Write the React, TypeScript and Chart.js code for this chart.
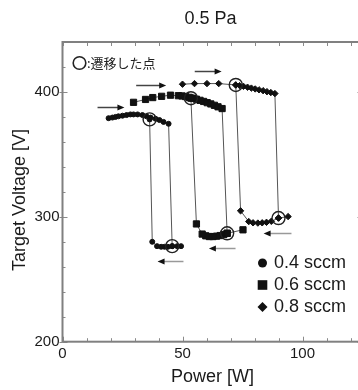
import React, { useEffect, useRef } from 'react';
import { Chart, registerables } from 'chart.js';

Chart.register(...registerables);

// ---------- text ----------
const TITLE = '0.5 Pa';
const X_TITLE = 'Power [W]';
const Y_TITLE = 'Target Voltage [V]';
const NOTE = ':遷移した点';
const SERIES_LABELS = ['0.4 sccm', '0.6 sccm', '0.8 sccm'];

// ---------- axes ----------
const X_MIN = 0;
const X_MAX = 125;
const Y_MIN = 200;
const Y_MAX = 440;
const X_TICKS = [0, 50, 100];
const Y_TICKS = [200, 300, 400];

// ---------- 0.4 sccm ----------
const up04W = [19.2, 20.8, 22.1, 23.3, 25.0, 26.7, 28.3, 29.6, 31.3, 33.3, 35.0, 36.7, 38.8, 40.4, 42.1, 44.2];
const up04V = [379, 379.5, 380, 380.5, 381, 381.5, 382, 382, 382, 381.5, 380.5, 379.5, 378.5, 377.5, 376, 374.5];
const lo04W = [37.4, 39.4, 41.1, 42.5, 43.9, 45.7, 47.8, 49.4];
const lo04V = [280, 276.5, 276, 276, 276, 276.5, 276.5, 276.5];
const lo04Jump = 5;
const back04 = [36.3, 378];

// ---------- 0.6 sccm ----------
const up06W = [29.6, 34.6, 37.6, 41.3, 45.0, 48.3, 49.8, 51.3, 52.8, 54.3, 55.8, 57.3, 58.8, 60.3, 61.8, 63.3, 64.8, 66.5];
const up06V = [391.7, 394, 395.5, 396.5, 397.4, 397, 396.8, 396.3, 395.7, 395, 394.2, 393.3, 392.4, 391.4, 390.4, 389.3, 388.1, 386.7];
const lo06W = [55.8, 58.2, 59.7, 61.2, 62.7, 64.2, 65.7, 67.2, 68.6, 75.2];
const lo06V = [294.3, 286.2, 284.8, 284.2, 284.2, 284.5, 285, 285.8, 286.8, 289.6];
const lo06Jump = 8;
const back06 = [53.5, 395];

// ---------- 0.8 sccm ----------
const up08W = [50.0, 55.0, 60.2, 65.1, 72.2, 73.8, 75.4, 77.1, 78.7, 80.3, 81.9, 83.6, 85.2, 86.8, 88.5];
const up08V = [406.2, 406.7, 406.7, 406.7, 405.6, 405.1, 404.5, 403.8, 403.1, 402.4, 401.7, 401, 400.2, 399.5, 398.7];
const lo08W = [74.2, 77.6, 79.4, 81.4, 83.2, 85.0, 87.0, 90.0, 94.0];
const lo08V = [304.8, 296.2, 295.2, 295, 295.2, 295.6, 296.4, 299, 300.2];
const lo08Jump = 7;
const back08 = [72.2, 405.6];

// ---------- transition points (open circles) ----------
const transW = [36.3, 45.7, 53.5, 68.6, 72.2, 90.0];
const transV = [378, 276.5, 395, 286.8, 405.6, 299];

// ---------- sweep arrows: [fromW, toW, V] ----------
const arrowFromW = [14.6, 30.7, 55.1, 50.4, 72.1, 95.4];
const arrowToW = [25.8, 43.2, 66.3, 39.6, 61.0, 83.8];
const arrowV = [387.8, 405.9, 416.6, 264.6, 275.2, 286.7];

const FONT = '"Liberation Sans", Arial, Helvetica, sans-serif';
const CJK = '"Noto Sans CJK JP", "Noto Sans CJK SC", sans-serif';

type P = { x: number; y: number | null };

function buildPath(uW: number[], uV: number[], lW: number[], lV: number[], jump: number, back: number[]): P[] {
  const pts: P[] = [];
  for (let i = 0; i < uW.length; i++) pts.push({ x: uW[i], y: uV[i] });
  for (let i = jump; i >= 0; i--) pts.push({ x: lW[i], y: lV[i] });
  pts.push({ x: back[0], y: back[1] });
  pts.push({ x: lW[jump], y: null });
  for (let i = jump; i < lW.length; i++) pts.push({ x: lW[i], y: lV[i] });
  return pts;
}

const decor = {
  id: 'decor',
  afterDraw(chart: any) {
    const { ctx, chartArea: a, scales } = chart;
    const xs = scales.x;
    const ys = scales.y;
    ctx.save();

    const seg = (x1: number, y1: number, x2: number, y2: number) => {
      ctx.beginPath();
      ctx.moveTo(x1, y1);
      ctx.lineTo(x2, y2);
      ctx.stroke();
    };

    // ticks (inward)
    ctx.strokeStyle = '#8a8a8a';
    ctx.lineWidth = 1;
    for (let v = X_MIN; v <= X_MAX; v += 10) {
      const px = Math.round(xs.getPixelForValue(v)) + 0.5;
      const major = v % 50 === 0;
      seg(px, a.bottom, px, a.bottom - (major ? 5 : 3.5));
      seg(px, a.top, px, a.top + 4);
    }
    for (let v = Y_MIN; v <= Y_MAX; v += 20) {
      const py = Math.round(ys.getPixelForValue(v)) + 0.5;
      const major = v % 100 === 0;
      seg(a.left, py, a.left + (major ? 5 : 3), py);
      if (major) seg(a.left, py, a.left - 3, py);
      seg(a.right, py, a.right - (major ? 5 : 3), py);
    }

    // frame
    ctx.strokeStyle = '#808080';
    ctx.lineWidth = 2;
    ctx.strokeRect(a.left, a.top, a.right - a.left, a.bottom - a.top);

    // arrows
    for (let i = 0; i < arrowFromW.length; i++) {
      const x1 = xs.getPixelForValue(arrowFromW[i]);
      const x2 = xs.getPixelForValue(arrowToW[i]);
      const y = Math.round(ys.getPixelForValue(arrowV[i])) + 0.5;
      const dir = x2 > x1 ? 1 : -1;
      ctx.strokeStyle = y < 150 ? '#444' : '#999';
      ctx.lineWidth = 1.5;
      seg(x1, y, x2 - dir * 5, y);
      ctx.fillStyle = '#111';
      ctx.beginPath();
      ctx.moveTo(x2, y);
      ctx.lineTo(x2 - dir * 7, y - 3);
      ctx.lineTo(x2 - dir * 7, y + 3);
      ctx.closePath();
      ctx.fill();
    }

    // note
    ctx.strokeStyle = '#222';
    ctx.lineWidth = 1.6;
    ctx.beginPath();
    ctx.arc(79.5, 63, 6.3, 0, Math.PI * 2);
    ctx.stroke();
    ctx.fillStyle = '#222';
    ctx.font = '13px ' + CJK;
    ctx.textBaseline = 'middle';
    ctx.textAlign = 'left';
    ctx.fillText(NOTE, 87, 63);

    // legend
    const lx = 262.5;
    const ly = [263, 285, 307];
    ctx.fillStyle = '#111';
    ctx.beginPath();
    ctx.arc(lx, ly[0], 4.5, 0, Math.PI * 2);
    ctx.fill();
    ctx.fillRect(lx - 4.8, ly[1] - 4.8, 9.6, 9.6);
    ctx.beginPath();
    ctx.moveTo(lx, ly[2] - 5);
    ctx.lineTo(lx + 5, ly[2]);
    ctx.lineTo(lx, ly[2] + 5);
    ctx.lineTo(lx - 5, ly[2]);
    ctx.closePath();
    ctx.fill();
    ctx.fillStyle = '#1a1a1a';
    ctx.font = '18px ' + FONT;
    for (let i = 0; i < SERIES_LABELS.length; i++) ctx.fillText(SERIES_LABELS[i], 274, ly[i] + 0.5);

    // titles
    ctx.fillStyle = '#1a1a1a';
    ctx.font = '18px ' + FONT;
    ctx.textAlign = 'center';
    ctx.fillText(TITLE, 210.5, 19);
    ctx.fillText(X_TITLE, (a.left + a.right) / 2, 377.5);
    ctx.translate(20, 200);
    ctx.rotate(-Math.PI / 2);
    ctx.fillText(Y_TITLE, 0, 0);
    ctx.restore();
  },
};

export default function App() {
  const ref = useRef<HTMLCanvasElement | null>(null);

  useEffect(() => {
    if (!ref.current) return;
    const line = { borderColor: '#555', borderWidth: 1, showLine: true, pointBackgroundColor: '#111', pointBorderColor: '#111', pointBorderWidth: 1, spanGaps: false };
    const chart = new Chart(ref.current, {
      type: 'scatter',
      data: {
        datasets: [
          {
            label: 'transition',
            data: transW.map((w, i) => ({ x: w, y: transV[i] })),
            showLine: false,
            pointStyle: 'circle',
            pointRadius: 6.5,
            pointBackgroundColor: 'rgba(0,0,0,0)',
            pointBorderColor: '#222',
            pointBorderWidth: 1.4,
          },
          { label: SERIES_LABELS[0], data: buildPath(up04W, up04V, lo04W, lo04V, lo04Jump, back04), pointStyle: 'circle', pointRadius: 2.5, ...line },
          { label: SERIES_LABELS[1], data: buildPath(up06W, up06V, lo06W, lo06V, lo06Jump, back06), pointStyle: 'rect', pointRadius: 4.4, ...line },
          { label: SERIES_LABELS[2], data: buildPath(up08W, up08V, lo08W, lo08V, lo08Jump, back08), pointStyle: 'rectRot', pointRadius: 3.2, ...line },
        ] as any,
      },
      options: {
        animation: false,
        responsive: false,
        devicePixelRatio: 1,
        layout: { padding: { top: 42, right: 12.5, left: 0, bottom: 0 } },
        plugins: { legend: { display: false }, tooltip: { enabled: false }, title: { display: false } },
        scales: {
          x: {
            type: 'linear',
            min: X_MIN,
            max: X_MAX,
            grid: { display: false, drawTicks: false },
            border: { display: false },
            afterBuildTicks: (s: any) => { s.ticks = X_TICKS.map((v) => ({ value: v })); },
            afterFit: (s: any) => { s.height = 48.3; },
            ticks: { color: '#1a1a1a', font: { size: 15, family: FONT }, padding: 3, maxRotation: 0 },
          },
          y: {
            type: 'linear',
            min: Y_MIN,
            max: Y_MAX,
            grid: { display: false, drawTicks: false },
            border: { display: false },
            afterBuildTicks: (s: any) => { s.ticks = Y_TICKS.map((v) => ({ value: v })); },
            afterFit: (s: any) => { s.width = 62.5; },
            ticks: { color: '#1a1a1a', font: { size: 15, family: FONT }, padding: 3 },
          },
        },
      } as any,
      plugins: [decor],
    });
    return () => chart.destroy();
  }, []);

  return (
    <div style={{ position: 'fixed', left: 0, top: 0, width: 358, height: 390, overflow: 'hidden', background: '#fff' }}>
      <canvas ref={ref} width={375} height={390} style={{ width: 375, height: 390, display: 'block' }} />
    </div>
  );
}
